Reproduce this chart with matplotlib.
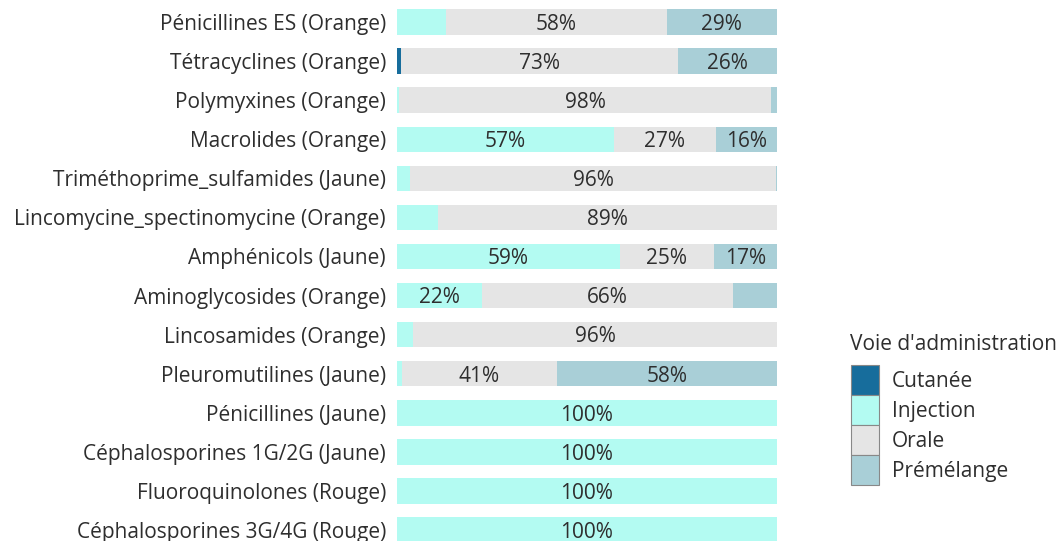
import matplotlib
matplotlib.use("Agg")
import matplotlib.pyplot as plt
import numpy as np
from matplotlib.patches import Patch

categories = [
    "Pénicillines ES (Orange)",
    "Tétracyclines (Orange)",
    "Polymyxines (Orange)",
    "Macrolides (Orange)",
    "Triméthoprime_sulfamides (Jaune)",
    "Lincomycine_spectinomycine (Orange)",
    "Amphénicols (Jaune)",
    "Aminoglycosides (Orange)",
    "Lincosamides (Orange)",
    "Pleuromutilines (Jaune)",
    "Pénicillines (Jaune)",
    "Céphalosporines 1G/2G (Jaune)",
    "Fluoroquinolones (Rouge)",
    "Céphalosporines 3G/4G (Rouge)",
]
series_names = ["Cutanée", "Injection", "Orale", "Prémélange"]
legend_title = "Voie d'administration"
cutanee    = [0.0, 1.0, 0.0, 0.0, 0.0, 0.0, 0.0, 0.0, 0.0, 0.0, 0, 0, 0, 0]
injection  = [13.0, 0.0, 0.5, 57.0, 3.5, 10.8, 58.6, 22.3, 4.2, 1.2, 100, 100, 100, 100]
orale      = [58.0, 73.0, 98.0, 27.0, 96.2, 89.2, 24.8, 66.0, 95.8, 41.0, 0, 0, 0, 0]
premelange = [29.0, 26.0, 1.5, 16.0, 0.3, 0.0, 16.6, 11.7, 0.0, 57.8, 0, 0, 0, 0]

colors = ["#176d9c", "#b3fbf2", "#e5e5e5", "#a9cfd7"]
text_color = "#2e2e2e"
fs = 15

plt.rcParams['font.family'] = ['Open Sans', 'DejaVu Sans']

fig = plt.figure(figsize=(10.64, 5.41), dpi=100)
ax = fig.add_axes([397/1064, 0, 380/1064, 1])

y = np.arange(len(categories))
data = [cutanee, injection, orale, premelange]
left = np.zeros(len(categories))
for name, vals, col in zip(series_names, data, colors):
    vals = np.array(vals, dtype=float)
    ax.barh(y, vals, left=left, height=0.65, color=col, label=name, edgecolor='none')
    for yi, (l, v) in enumerate(zip(left, vals)):
        if v >= 15:
            ax.text(l + v / 2, yi + 0.06, f"{v:.0f}%", ha='center', va='center',
                    fontsize=fs, color=text_color)
    left += vals

ax.set_xlim(0, 100)
ax.set_ylim(13.28, -0.563)
ax.set_yticks(y)
ax.set_yticklabels(categories, fontsize=fs, color=text_color)
ax.tick_params(axis='y', length=0, pad=8)
ax.set_xticks([])
for s in ax.spines.values():
    s.set_visible(False)

handles = [Patch(facecolor=c, edgecolor='#888888', linewidth=0.8, label=n)
           for n, c in zip(series_names, colors)]
leg = fig.legend(handles=handles,
                 loc='upper left', bbox_to_anchor=(851/1064, 1 - 365/541),
                 frameon=False, fontsize=fs,
                 handlelength=1.35, handleheight=1.84, labelspacing=0,
                 handletextpad=0.6, borderaxespad=0, borderpad=0)
for t in leg.get_texts():
    t.set_color(text_color)
fig.text(850/1064, 1 - 345/541, legend_title, fontsize=fs, color=text_color,
         ha='left', va='center')

fig.savefig("out.png", dpi=100)
